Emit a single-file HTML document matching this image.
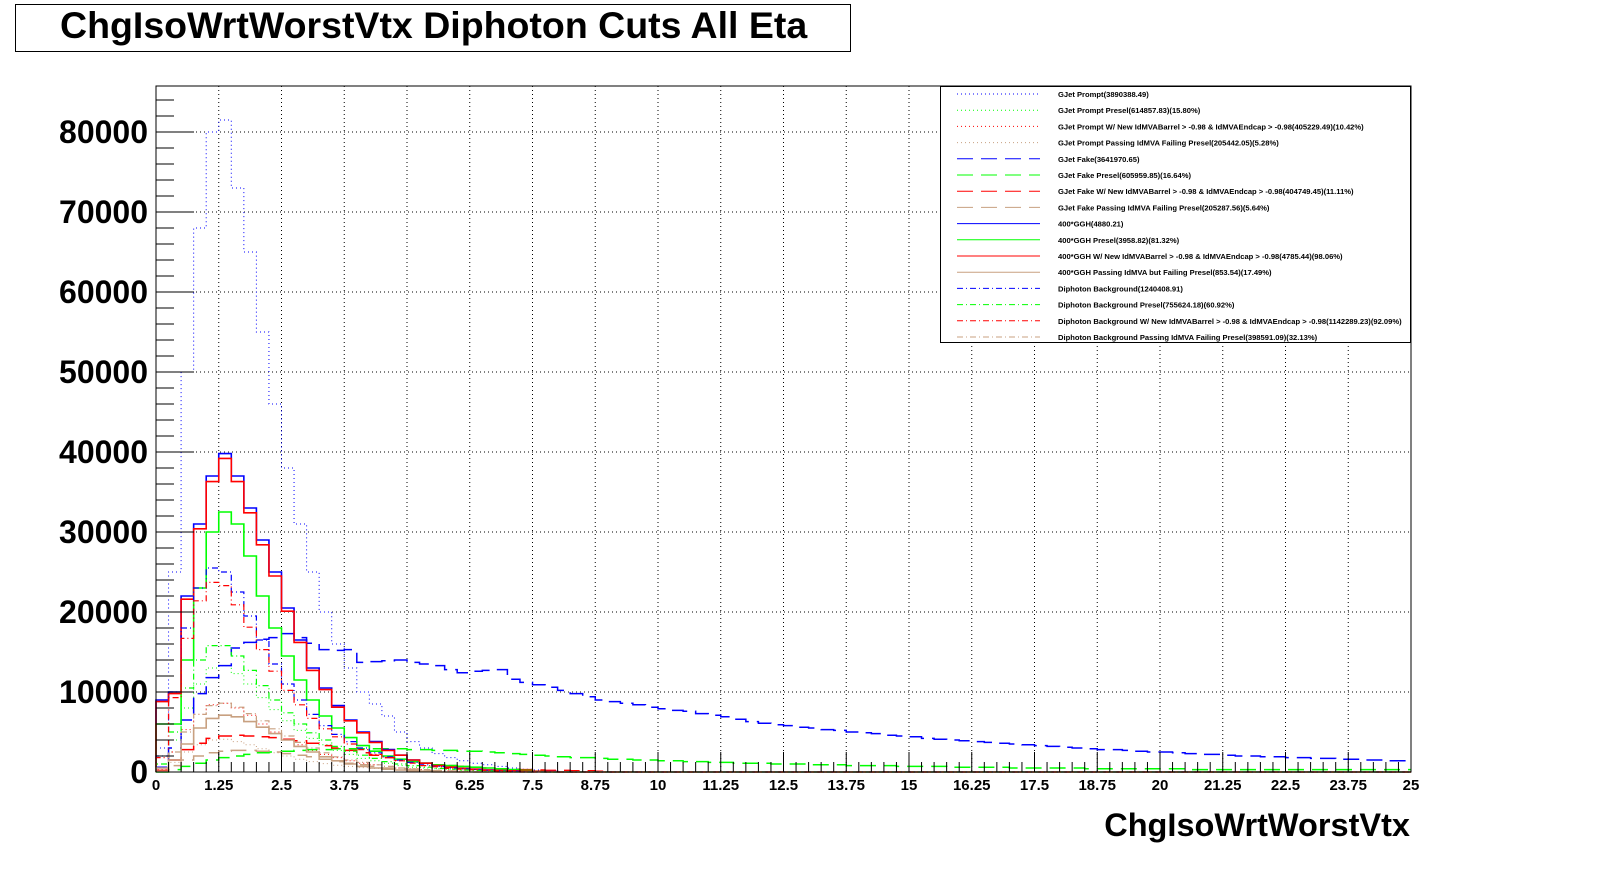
<!DOCTYPE html>
<html><head><meta charset="utf-8">
<style>
html,body{margin:0;padding:0;background:#fff;}
body{width:1598px;height:874px;overflow:hidden;font-family:"Liberation Sans",sans-serif;}
</style></head>
<body>
<svg id="chart" width="1598" height="874" xmlns="http://www.w3.org/2000/svg">
<rect x="15.5" y="4.5" width="835" height="47" fill="#fff" stroke="#000" stroke-width="1"/>
<text x="60" y="38" font-family="Liberation Sans" font-weight="bold" font-size="37.5">ChgIsoWrtWorstVtx Diphoton Cuts All Eta</text>
<g id="grid"></g>
<g id="series"></g>
<g id="axes"></g>
<g id="legend"></g>
<text x="1410" y="836" text-anchor="end" font-family="Liberation Sans" font-weight="bold" font-size="32.5">ChgIsoWrtWorstVtx</text>
</svg>
<script>
// values in thousands of events, bins of width 0.25 starting at 0
const binWidth = 0.25;
const xTickLabels = ["0","1.25","2.5","3.75","5","6.25","7.5","8.75","10","11.25","12.5","13.75","15","16.25","17.5","18.75","20","21.25","22.5","23.75","25"];
const yTickLabels = ["0","10000","20000","30000","40000","50000","60000","70000","80000"];
const gjetPrompt = [3,25,50,68,80,81.5,73,65,55,46,38,31,25,20,16,13,10,8.5,7,5,3.8,3,2.3,1.8,1.4,1.1,0.9,0.7,0.5,0.35,0.25,0.15];
const gjetPromptPresel = [0.5,4,8,11,13,13.3,12.3,11,9.3,7.8,6.4,5.2,4.2,3.4,2.7,2.2,1.7,1.4,1.1,0.8,0.6,0.5,0.4,0.3,0.2,0.15,0.1];
const gjetPromptNewMVA = [0.3,2.5,5.3,7.2,8.4,8.6,8,7.1,6,5,4.1,3.4,2.7,2.2,1.8,1.4,1.1,0.9,0.7,0.5,0.4,0.3,0.2,0.15,0.1];
const gjetPromptPassFail = [0.2,1.2,2.5,3.4,4,4.1,3.8,3.4,2.9,2.4,2,1.6,1.3,1.05,0.85,0.7,0.55,0.45,0.35,0.25,0.2,0.15,0.1];
const gjetFake = [0.6,3,6.5,9.8,11.8,13.3,15.5,16.2,16.6,16.8, 17.3,16.8,16.1,15.3,15.2,15.3,13.7,13.8,13.9,14, 13.7,13.5,13.3,12.8,12.4,12.6,12.7,12.8,11.6,11.2, 10.9,10.6,10.2,9.8,9.4,9,8.8,8.6,8.4,8.1, 7.9,7.7,7.6,7.3,7.1,6.9,6.6,6.3,6.1,5.9, 5.8,5.6,5.5,5.3,5.2,5,4.9,4.8,4.6,4.5, 4.4,4.2,4.1,4,3.9,3.8,3.7,3.6,3.5,3.4, 3.3,3.2,3.1,3,2.9,2.8,2.8,2.7,2.6,2.5, 2.5,2.4,2.3,2.2,2.2,2.1,2,2,1.9,1.9, 1.8,1.8,1.7,1.7,1.6,1.6,1.5,1.5,1.4,1.4];
const gjetFakePresel = [0,0.3,0.7,1.1,1.5,1.8,2,2.2,2.4,2.5,2.6,2.7,2.8,2.8,2.9,2.9,2.9,2.9,2.9,2.9,2.8,2.8,2.7,2.7,2.6,2.6,2.5,2.4,2.3,2.2,2.1,2,1.9,1.8,1.8,1.7,1.6,1.6,1.5,1.5,1.4,1.4,1.3,1.3,1.2,1.2,1.1,1.1,1.1,1,1,1,0.9,0.9,0.9,0.8,0.8,0.8,0.8,0.7,0.7,0.7,0.7,0.6,0.6,0.6,0.6,0.6,0.5,0.5,0.5,0.5,0.5,0.5,0.4,0.4,0.4,0.4,0.4,0.4,0.4,0.4,0.3,0.3,0.3,0.3,0.3,0.3,0.3,0.3,0.3,0.3,0.3,0.3,0.3,0.3,0.3,0.3,0.3,0.3];
const gjetFakeNewMVA = [0.2,1.5,2.8,3.6,4.2,4.5,4.6,4.5,4.4,4.3,4.1,3.9,3.6,3.3,3,2.7,2.4,2.1,1.8,1.5,1.3,1.1,0.9,0.8,0.7,0.6,0.5,0.4,0.35,0.3,0.25,0.2,0.2,0.15,0.15,0.1];
const gjetFakePassFail = [0.1,0.8,1.5,2,2.4,2.6,2.7,2.7,2.6,2.5,2.3,2.1,1.9,1.6,1.3,1.1,0.9,0.7,0.5,0.4,0.3,0.2,0.15,0.1];
const ggh = [9,10,22,31,37,39.8,37,33,29,25,20.5,16.5,13,10.5,8.3,6.5,5,3.8,2.8,2.1,1.5,1.1,0.8,0.6,0.45,0.35,0.25,0.2,0.15,0.1,0.08,0.05];
const gghPresel = [6,6,14,23,30,32.5,31,27,22,18,14.5,11.5,9,7,5.5,4.3,3.3,2.6,2,1.6,1.3,1.1,0.9,0.8,0.7,0.6,0.5,0.4,0.3,0.2,0.1];
const gghNewMVA = [8.8,9.8,21.6,30.4,36.3,39.2,36.3,32.4,28.4,24.5,20.1,16.2,12.7,10.3,8.1,6.4,4.9,3.7,2.7,2.1,1.5,1.1,0.8,0.6,0.45,0.35,0.25,0.2,0.15,0.1,0.08,0.05];
const gghPassFail = [0.5,1.5,3.5,5.5,6.7,7.1,6.9,6.3,5.6,4.8,4,3.2,2.5,1.9,1.4,1,0.7,0.5,0.35,0.25,0.15,0.1];
const diphoton = [2,10,18,23,25.5,25,22.5,19.5,16.5,13.5,11,9,7.2,5.8,4.7,3.8,3,2.4,1.9,1.5,1.2,0.9,0.7,0.5,0.4,0.3,0.2,0.15,0.1];
const diphotonPresel = [1,5,10.5,14,15.8,15.8,14.5,12.7,10.8,9,7.4,6,4.9,4,3.2,2.6,2.1,1.7,1.3,1,0.8,0.6,0.45,0.35,0.25,0.2,0.15,0.1];
const diphotonNewMVA = [1.8,9.3,16.7,21.4,23.7,23.3,20.9,18.1,15.3,12.6,10.2,8.4,6.7,5.4,4.4,3.5,2.8,2.2,1.8,1.4,1.1,0.8,0.65,0.45,0.35,0.28,0.2,0.14,0.1];
const diphotonPassFail = [0.5,2.5,5,7.2,8.3,8.6,8.1,7.3,6.4,5.4,4.5,3.7,3,2.4,1.9,1.5,1.2,0.9,0.7,0.5,0.4,0.3,0.2,0.15,0.1];
const legendLabels = ["GJet Prompt(3890388.49)","GJet Prompt Presel(614857.83)(15.80%)","GJet Prompt W/ New IdMVABarrel > -0.98 & IdMVAEndcap > -0.98(405229.49)(10.42%)","GJet Prompt Passing IdMVA Failing Presel(205442.05)(5.28%)","GJet Fake(3641970.65)","GJet Fake Presel(605959.85)(16.64%)","GJet Fake W/ New IdMVABarrel > -0.98 & IdMVAEndcap > -0.98(404749.45)(11.11%)","GJet Fake Passing IdMVA Failing Presel(205287.56)(5.64%)","400*GGH(4880.21)","400*GGH Presel(3958.82)(81.32%)","400*GGH W/ New IdMVABarrel > -0.98 & IdMVAEndcap > -0.98(4785.44)(98.06%)","400*GGH Passing IdMVA but Failing Presel(853.54)(17.49%)","Diphoton Background(1240408.91)","Diphoton Background Presel(755624.18)(60.92%)","Diphoton Background W/ New IdMVABarrel > -0.98 & IdMVAEndcap > -0.98(1142289.23)(92.09%)","Diphoton Background Passing IdMVA Failing Presel(398591.09)(32.13%)"];

const NS="http://www.w3.org/2000/svg";
const X0=156,X1=1411,Y0=772,YT=86;
const xs=v=>X0+(v/25)*(X1-X0);
const ys=k=>Y0-k*8; // k in thousands
function mk(tag,attrs,parent){const e=document.createElementNS(NS,tag);for(const a in attrs)e.setAttribute(a,attrs[a]);parent.appendChild(e);return e;}
const grid=document.getElementById('grid'),axes=document.getElementById('axes'),ser=document.getElementById('series'),leg=document.getElementById('legend');

mk('rect',{x:X0,y:YT,width:X1-X0,height:Y0-YT,fill:'#fff',stroke:'none'},grid);
xTickLabels.forEach((t,i)=>{ if(i===0||i===xTickLabels.length-1)return; const x=xs(parseFloat(t));
 const l=mk('line',{x1:x,x2:x,y1:YT,y2:Y0,stroke:'#000','stroke-width':1,'stroke-dasharray':'1,3'},grid);
 
 });
yTickLabels.forEach((t,i)=>{ if(i===0)return; const y=ys(parseFloat(t)/1000);
 const l=mk('line',{x1:X0,x2:X1,y1:y,y2:y,stroke:'#000','stroke-width':1,'stroke-dasharray':'1,3'},grid);
 
 });

const seriesDefs=[
 [gjetPrompt,'#0000ff','1,3',1],[gjetPromptPresel,'#00ff00','1,3',1],[gjetPromptNewMVA,'#ff0000','1,3',1],[gjetPromptPassFail,'#c8a080','1,3',1],
 [gjetFake,'#0000ff','16,8',1.5],[gjetFakePresel,'#00ff00','16,8',1.5],[gjetFakeNewMVA,'#ff0000','16,8',1.5],[gjetFakePassFail,'#c8a080','16,8',1.5],
 [ggh,'#0000ff','',1.6],[gghPresel,'#00ff00','',1.6],[gghNewMVA,'#ff0000','',1.6],[gghPassFail,'#c8a080','',1.6],
 [diphoton,'#0000ff','6,3,1,3',1.2],[diphotonPresel,'#00ff00','6,3,1,3',1.2],[diphotonNewMVA,'#ff0000','6,3,1,3',1.2],[diphotonPassFail,'#c8a080','6,3,1,3',1.2]];
const seriesNames=['gjet-prompt','gjet-prompt-presel','gjet-prompt-new-mva','gjet-prompt-pass-fail','gjet-fake','gjet-fake-presel','gjet-fake-new-mva','gjet-fake-pass-fail','ggh','ggh-presel','ggh-new-mva','ggh-pass-fail','diphoton','diphoton-presel','diphoton-new-mva','diphoton-pass-fail'];
seriesDefs.forEach((s,i)=>{
 const vals=s[0]; let d='M'+xs(0)+','+ys(0);
 for(let b=0;b<100;b++){const v=b<vals.length?vals[b]:0; d+=' L'+xs(b*binWidth)+','+ys(v)+' L'+xs((b+1)*binWidth)+','+ys(v);}
 const p=mk('path',{d:d,fill:'none',stroke:s[1],'stroke-width':s[3],'stroke-dasharray':s[2]},ser);
 
 
});

mk('rect',{x:X0,y:YT,width:X1-X0,height:Y0-YT,fill:'none',stroke:'#000','stroke-width':1},axes);
for(let m=0;m<=100;m++){const x=xs(m*0.25);const major=m%5===0;
 const t=mk('line',{x1:x,x2:x,y1:Y0,y2:Y0-(major?20:10),stroke:'#000','stroke-width':1},axes);
 
 }
xTickLabels.forEach(t=>{const x=xs(parseFloat(t));
 const e=mk('text',{x:x,y:Y0+18,'text-anchor':'middle','font-family':'Liberation Sans','font-weight':'bold','font-size':15},axes);e.textContent=t;
 
 });
for(let m=0;m<=42;m++){const y=ys(m*2);const major=m%5===0;
 const t=mk('line',{x1:X0,x2:X0+(major?38:18),y1:y,y2:y,stroke:'#000','stroke-width':1},axes);
 
 }
yTickLabels.forEach(t=>{const y=ys(parseFloat(t)/1000);
 const e=mk('text',{x:148,y:y+11,'text-anchor':'end','font-family':'Liberation Sans','font-weight':'bold','font-size':32},axes);e.textContent=t;
 
 });

const lb=mk('rect',{x:940.5,y:86.5,width:470,height:256,fill:'#fff',stroke:'#000','stroke-width':1},leg);


legendLabels.forEach((lab,i)=>{const y=94+i*16.2;const s=seriesDefs[i];
 const l=mk('line',{x1:957,x2:1040,y1:y,y2:y,stroke:s[1],'stroke-width':1,'stroke-dasharray':s[2]},leg);
 
 
 const e=mk('text',{x:1058,y:y+3,'font-family':'Liberation Sans','font-weight':'bold','font-size':7.6},leg);e.textContent=lab;
 
 });
</script>
</body></html>
